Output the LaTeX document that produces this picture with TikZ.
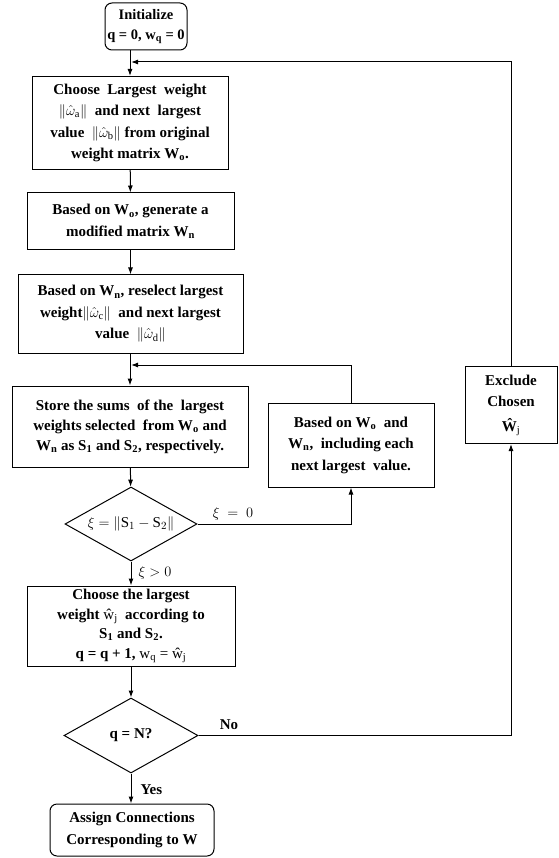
\documentclass[tikz,border=0pt]{standalone}
\usepackage{fontspec}
\setmainfont{Liberation Serif}
\usetikzlibrary{shapes.geometric,arrows.meta}

\newcommand{\wj}{{\mdseries ŵ\textsubscript{j}}}

\begin{document}
\begin{tikzpicture}[x=1pt,y=-1pt,line width=1pt]

	\tikzset{box/.style={draw,align=center,inner sep=0pt,font=\fontsize{15}{21.5}\selectfont\bfseries},
		rbox/.style={box,rounded corners=7pt},
		decision/.style={draw,diamond,aspect=1.78,inner sep=0pt,font=\fontsize{15}{18}\selectfont},
		flow/.style={-{Latex[length=7pt,width=5pt]}},
		lbl/.style={inner sep=1pt,font=\fontsize{15}{18}\selectfont}}
	\useasboundingbox (0,0) rectangle (558,858);

	\node[rbox,minimum width=82pt,minimum height=47pt,font=\fontsize{14.5}{20}\selectfont\bfseries] (init) at (146,26.5) {Initialize\\q = 0, w\textsubscript{q} = 0};
	\node[box,minimum width=196pt,minimum height=93pt] (choose) at (130,123) {Choose\ \ Largest\ \ weight\\$\|\hat{\omega}_{\mathrm{a}}\|$\ \ and next\ \ largest\\value\ \ $\|\hat{\omega}_{\mathrm{b}}\|$ from original\\weight matrix W\textsubscript{o}.};
	\node[box,minimum width=207pt,minimum height=57pt] (modify) at (130.5,221.5) {Based on W\textsubscript{o}, generate a\\modified matrix W\textsubscript{n}};
	\node[box,minimum width=225pt,minimum height=78pt] (reselect) at (130.5,314) {Based on W\textsubscript{n}, reselect largest\\weight$\|\hat{\omega}_{\mathrm{c}}\|$\ \ and next largest\\value\ \ $\|\hat{\omega}_{\mathrm{d}}\|$};
	\node[box,minimum width=236pt,minimum height=81pt,font=\fontsize{15}{20}\selectfont\bfseries] (store) at (130,426.5) {Store the sums\ \ of the\ \ largest\\weights selected\ \ from W\textsubscript{o} and\\W\textsubscript{n} as S\textsubscript{1} and S\textsubscript{2}, respectively.};
	\node[box,minimum width=166pt,minimum height=84pt] (include) at (351,445) {Based on W\textsubscript{o}\ \ and\\W\textsubscript{n},\ \ including each\\next largest\ \ value.};
	\node[decision,minimum width=132pt,minimum height=74pt] (diff) at (131,524) {$\xi = \left\|\mathrm{S}_1 - \mathrm{S}_2\right\|$};
	\node[box,minimum width=208pt,minimum height=80pt,font=\fontsize{15}{19.5}\selectfont\bfseries] (pick) at (131,626) {Choose the largest\\weight\ \wj\ \ according to\\S\textsubscript{1} and S\textsubscript{2}.\\q = q + 1,\ {\mdseries w\textsubscript{q} = }\wj};
	\node[decision,minimum width=134pt,minimum height=75pt,font=\fontsize{15}{18}\selectfont\bfseries] (done) at (131,735.5) {q = N?};
	\node[rbox,minimum width=164pt,minimum height=52pt] (assign) at (132,830) {Assign Connections\\Corresponding to W};
	\node[box,minimum width=92pt,minimum height=77pt] (exclude) at (511,405) {Exclude\\Chosen\\[3pt]Ŵ{\mdseries\textsubscript{j}}};

	\coordinate (back) at (131,62);
	\coordinate (merge) at (131,365);

	\draw[flow] (choose.north |- init.south) -- (choose.north);
	\draw[flow] (choose) -- (modify);
	\draw[flow] (modify) -- (reselect);
	\draw[flow] (reselect.south -| store.north) -- (store.north);
	\draw[flow] (include.north) |- (merge);
	\draw[flow] (store) -- (diff);
	\draw[flow] (diff.east) -| (include.south);
	\draw[flow] (diff.south) -- (pick.north -| diff.south);
	\draw[flow] (pick.south -| done.north) -- (done.north);
	\draw[flow] (done.east) -| (exclude.south);
	\draw[flow] (exclude.north) |- (back);
	\draw[flow] (done.south) -- (assign.north -| done.south);

	\node[lbl,anchor=south] (zero) at (233,522) {$\xi\ =\ 0$};
	\node[lbl,anchor=west] (pos) at (137,573) {$\xi > 0$};
	\node[lbl,anchor=south,font=\fontsize{15}{18}\selectfont\bfseries] (no) at (229,731) {No};
	\node[lbl,anchor=west,font=\fontsize{15}{18}\selectfont\bfseries] (yes) at (139,790) {Yes};

\end{tikzpicture}
\end{document}
